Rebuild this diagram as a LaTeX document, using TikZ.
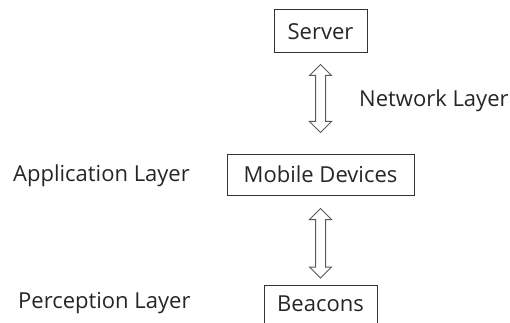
\documentclass[tikz,border=0pt]{standalone}
\usepackage{fontspec}
\setmainfont{Open Sans}
\usetikzlibrary{calc}
\begin{document}
\begin{tikzpicture}[x=1pt,y=-1pt,
  box/.style={draw=black!80,line width=1pt,inner sep=0pt,text=black!85,font=\fontsize{22}{26}\selectfont},
  lbl/.style={text=black!85,font=\fontsize{22}{26}\selectfont,inner sep=0pt},
  dbl/.style={draw=black!65,line width=1pt,fill=white,line join=miter}]
\useasboundingbox (0,0) rectangle (510,323);
\clip (0,0) rectangle (510,323);
% boxes
\node[box,minimum width=93pt,minimum height=43pt] (server) at (320.5,31.5) {Server};
\node[box,minimum width=187pt,minimum height=41pt] (mobile) at (320.5,174.5) {Mobile Devices};
\node[box,minimum width=113pt,minimum height=60pt,anchor=north] (beacons) at (320.5,285) {};
\node[lbl] (beacontext) at (320.5,304) {Beacons};
% layer labels
\node[lbl,anchor=west] (net) at (359,101) {Network Layer};
\node[lbl,anchor=west] (app) at (13,176) {Application Layer};
\node[lbl,anchor=west] (perc) at (18,303) {Perception Layer};
% hollow double arrows between the layers: #1 upper tip, #2 lower tip
\newcommand\hollowarrow[2]{%
  \draw[dbl] ($(#1)+(-5,11)$) -- ($(#1)+(-11,11)$) -- (#1) -- ($(#1)+(11,11)$) -- ($(#1)+(5,11)$)
    -- ($(#2)+(5,-11)$) -- ($(#2)+(11,-11)$) -- (#2) -- ($(#2)+(-11,-11)$) -- ($(#2)+(-5,-11)$) -- cycle;}
\coordinate (t1) at ([yshift=-11pt]server.south);
\coordinate (b1) at ([yshift=21pt]mobile.north);
\coordinate (t2) at ([yshift=-13pt]mobile.south);
\coordinate (b2) at ([yshift=7pt]beacons.north);
\hollowarrow{t1}{b1}
\hollowarrow{t2}{b2}
\end{tikzpicture}
\end{document}
